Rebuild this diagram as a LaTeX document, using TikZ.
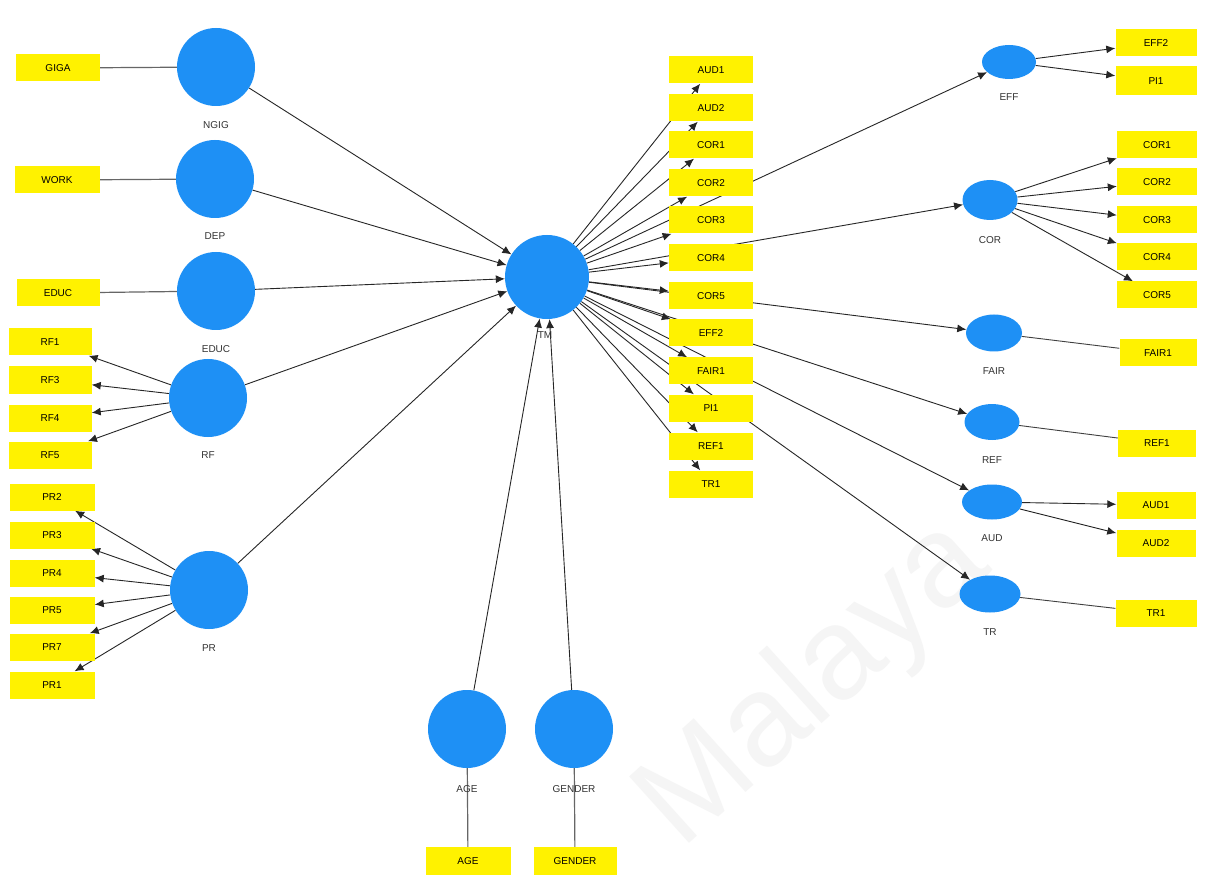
\documentclass[tikz,border=0pt]{standalone}
\usepackage{fontspec}
\setmainfont{Liberation Sans}
\usetikzlibrary{shapes.geometric,arrows.meta}
\pgfdeclarelayer{bg}
\pgfdeclarelayer{bottom}
\pgfsetlayers{bottom,bg,main}
\definecolor{lvblue}{RGB}{30,144,245}
\definecolor{mvyellow}{RGB}{255,242,0}
\begin{document}
\begin{tikzpicture}[x=1pt,y=-1pt,
  ind/.style={fill=mvyellow, minimum width=83pt, minimum height=27pt, inner sep=0pt, font=\fontsize{10}{12}\selectfont},
  lv/.style={circle, fill=lvblue, minimum size=78pt, inner sep=0pt},
  lve/.style={ellipse, fill=lvblue, inner sep=0pt},
  lab/.style={font=\fontsize{10}{12}\selectfont, text=black!80},
  arr/.style={draw=black!85, line width=0.9pt, -{Latex[length=9pt,width=8pt]}},
  plainln/.style={draw=black!60, line width=1.2pt},
  thinln/.style={draw=black!75, line width=0.9pt},
]
\useasboundingbox (0,0) rectangle (1208,877);
\begin{pgfonlayer}{bottom}
\fill[white] (0,0) rectangle (1208,877);
\end{pgfonlayer}

% ---- left indicators
\node[ind, minimum width=84pt] (GIGA) at (58,68) {GIGA};
\node[ind, minimum width=85pt] (WORK) at (57,180) {WORK};
\node[ind, minimum width=83pt] (EDUCb) at (58,293) {EDUC};
\node[ind] (RF1) at (50,342) {RF1};
\node[ind] (RF3) at (50,380) {RF3};
\node[ind] (RF4) at (50,418) {RF4};
\node[ind] (RF5) at (50,455) {RF5};
\node[ind, minimum width=85pt] (PR2) at (52,497) {PR2};
\node[ind, minimum width=85pt] (PR3) at (52,535) {PR3};
\node[ind, minimum width=85pt] (PR4) at (52,573) {PR4};
\node[ind, minimum width=85pt] (PR5) at (52,610) {PR5};
\node[ind, minimum width=85pt] (PR7) at (52,647) {PR7};
\node[ind, minimum width=85pt] (PR1) at (52,685) {PR1};

% ---- left latent variables
\node[lv] (NGIG) at (216,67) {};
\node[lab] (NGIGl) at (216,125) {NGIG};
\node[lv] (DEP) at (215,179) {};
\node[lab] (DEPl) at (215,236) {DEP};
\node[lv] (EDUC) at (216,291) {};
\node[lab] (EDUCl) at (216,349) {EDUC};
\node[lv] (RF) at (208,398) {};
\node[lab] (RFl) at (208,455) {RF};
\node[lv] (PR) at (209,590) {};
\node[lab] (PRl) at (209,648) {PR};

% ---- central
\node[lv, minimum size=84pt] (TM) at (547,277) {};
\node[lab] (TMl) at (545,335) {TM};

% ---- bottom
\node[lv] (AGE) at (467,729) {};
\node[lab] (AGEl) at (467,789) {AGE};
\node[lv] (GENDER) at (574,729) {};
\node[lab] (GENDERl) at (574,789) {GENDER};
\node[ind, minimum width=85pt, minimum height=28pt] (AGEb) at (468,861) {AGE};
\node[ind, minimum width=83pt, minimum height=28pt] (GENDERb) at (575,861) {GENDER};

% ---- middle indicators
\node[ind, minimum width=84pt] (mAUD1) at (711,70) {AUD1};
\node[ind, minimum width=84pt] (mAUD2) at (711,108) {AUD2};
\node[ind, minimum width=84pt] (mCOR1) at (711,145) {COR1};
\node[ind, minimum width=84pt] (mCOR2) at (711,183) {COR2};
\node[ind, minimum width=84pt] (mCOR3) at (711,220) {COR3};
\node[ind, minimum width=84pt] (mCOR4) at (711,258) {COR4};
\node[ind, minimum width=84pt] (mCOR5) at (711,296) {COR5};
\node[ind, minimum width=84pt] (mEFF2) at (711,333) {EFF2};
\node[ind, minimum width=84pt] (mFAIR1) at (711,371) {FAIR1};
\node[ind, minimum width=84pt] (mPI1) at (711,408) {PI1};
\node[ind, minimum width=84pt] (mREF1) at (711,446) {REF1};
\node[ind, minimum width=84pt] (mTR1) at (711,484) {TR1};

% ---- right latent variables
\node[lve, minimum width=54pt, minimum height=34pt] (EFF) at (1009,62) {};
\node[lab] (EFFl) at (1009,97) {EFF};
\node[lve, minimum width=55pt, minimum height=40pt] (COR) at (990,200) {};
\node[lab] (CORl) at (990,240) {COR};
\node[lve, minimum width=56pt, minimum height=37pt] (FAIR) at (994,333) {};
\node[lab] (FAIRl) at (994,371) {FAIR};
\node[lve, minimum width=55pt, minimum height=36pt] (REF) at (992,422) {};
\node[lab] (REFl) at (992,460) {REF};
\node[lve, minimum width=60pt, minimum height=35pt] (AUD) at (992,502) {};
\node[lab] (AUDl) at (992,538) {AUD};
\node[lve, minimum width=61pt, minimum height=37pt] (TR) at (990,594) {};
\node[lab] (TRl) at (990,632) {TR};

% ---- right indicators
\node[ind, minimum width=81pt] (rEFF2) at (1156,43) {EFF2};
\node[ind, minimum width=81pt, minimum height=29pt] (rPI1) at (1156,81) {PI1};
\node[ind, minimum width=80pt] (rCOR1) at (1157,145) {COR1};
\node[ind, minimum width=80pt] (rCOR2) at (1157,182) {COR2};
\node[ind, minimum width=80pt] (rCOR3) at (1157,220) {COR3};
\node[ind, minimum width=80pt] (rCOR4) at (1157,257) {COR4};
\node[ind, minimum width=80pt] (rCOR5) at (1157,295) {COR5};
\node[ind, minimum width=77pt] (rFAIR1) at (1158,353) {FAIR1};
\node[ind, minimum width=78pt] (rREF1) at (1157,443) {REF1};
\node[ind, minimum width=79pt] (rAUD1) at (1156,505) {AUD1};
\node[ind, minimum width=79pt] (rAUD2) at (1156,543) {AUD2};
\node[ind, minimum width=81pt] (rTR1) at (1156,613) {TR1};

\begin{pgfonlayer}{bg}
  \node[rotate=42, text=black!4, font=\fontsize{130}{130}\selectfont, inner sep=0pt] (wm) at (815,685) {Malaya};

  % measurement links
  \draw[plainln] (GIGA) -- (NGIG);
  \draw[plainln] (WORK) -- (DEP);
  \draw[plainln] (EDUCb) -- (EDUC);
  \draw[plainln] (AGEb) -- (AGE);
  \draw[plainln] (GENDERb) -- (GENDER);
  \draw[thinln] (FAIR) -- (rFAIR1);
  \draw[thinln] (REF) -- (rREF1);
  \draw[thinln] (TR) -- (rTR1);

  % reflective arrows
  \foreach \t in {RF1,RF3,RF4,RF5} \draw[arr] (RF) -- (\t);
  \foreach \t in {PR2,PR3,PR4,PR5,PR7,PR1} \draw[arr] (PR) -- (\t);
  \foreach \t in {rEFF2,rPI1} \draw[arr] (EFF) -- (\t);
  \foreach \t in {rCOR1,rCOR2,rCOR3,rCOR4,rCOR5} \draw[arr] (COR) -- (\t);
  \foreach \t in {rAUD1,rAUD2} \draw[arr] (AUD) -- (\t);

  % structural paths into TM
  \foreach \s in {NGIG,DEP,EDUC,RF,PR,AGE,GENDER} \draw[arr] (\s) -- (TM);

  % TM to middle indicators
  \foreach \t in {mAUD1,mAUD2,mCOR1,mCOR2,mCOR3,mCOR4,mCOR5,mEFF2,mFAIR1,mPI1,mREF1,mTR1} \draw[arr] (TM) -- (\t);

  % TM to right latent variables
  \foreach \t in {EFF,COR,FAIR,REF,AUD,TR} \draw[arr] (TM) -- (\t);
\end{pgfonlayer}
\end{tikzpicture}
\end{document}
